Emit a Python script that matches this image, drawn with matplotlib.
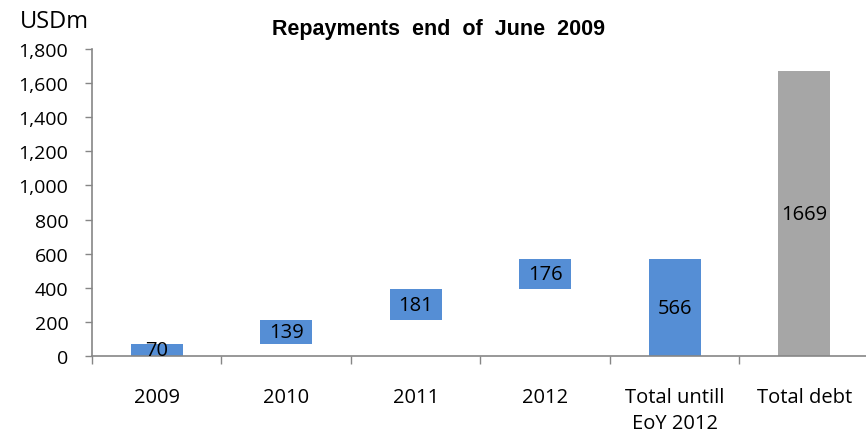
import matplotlib
matplotlib.use("Agg")
import matplotlib.pyplot as plt
from matplotlib.ticker import FixedLocator, FuncFormatter

categories = ["2009", "2010", "2011", "2012", "Total untill\nEoY 2012", "Total debt"]
values = [70, 139, 181, 176, 566, 1669]
is_total = [False, False, False, False, True, True]
colors = ["#558ED5", "#558ED5", "#558ED5", "#558ED5", "#558ED5", "#A6A6A6"]

# waterfall bases: yearly steps stack on the running sum, totals start at zero
bases = []
running = 0
for v, t in zip(values, is_total):
    if t:
        bases.append(0)
    else:
        bases.append(running)
        running += v

fig = plt.figure(figsize=(8.66, 4.35), dpi=100)
ax = fig.add_axes([92 / 866, 1 - 357 / 435, 774 / 866, (357 - 50) / 435])

font = "Open Sans"
x = list(range(len(categories)))
ax.bar(x, values, bottom=bases, width=0.4, color=colors, zorder=2)

for xi, v, b in zip(x, values, bases):
    ax.text(xi, b + v / 2, str(v), ha="center", va="center", fontsize=14.5,
            family=font, color="black", zorder=3)

ax.set_xlim(-0.5, 5.477)
ax.set_ylim(0, 1800)
ax.set_yticks(range(0, 1801, 200))
ax.yaxis.set_major_formatter(FuncFormatter(lambda v, p: f"{int(v):,}"))
ax.set_xticks(x)
ax.set_xticklabels(categories)
ax.xaxis.set_minor_locator(FixedLocator([i - 0.5 for i in range(len(categories) + 1)]))

for s in ["top", "right"]:
    ax.spines[s].set_visible(False)
for s in ["left", "bottom"]:
    ax.spines[s].set_color("#868686")
    ax.spines[s].set_linewidth(1.2)

ax.tick_params(axis="y", which="major", length=5, width=1, color="#868686",
               pad=12, labelsize=14)
ax.tick_params(axis="x", which="major", length=0, pad=22, labelsize=14.5)
ax.tick_params(axis="x", which="minor", length=6, width=1, color="#868686")
for lbl in ax.get_xticklabels() + ax.get_yticklabels():
    lbl.set_family(font)
    lbl.set_linespacing(1.45)

fig.text(20 / 866, 1 - 22 / 435, "USDm", fontsize=17, family=font,
         ha="left", va="center")
fig.text(438 / 866, 1 - 30 / 435, "Repayments  end  of  June  2009", fontsize=15.5,
         family="Liberation Sans", fontweight="bold", ha="center", va="center")

fig.savefig("out.png", dpi=100)
